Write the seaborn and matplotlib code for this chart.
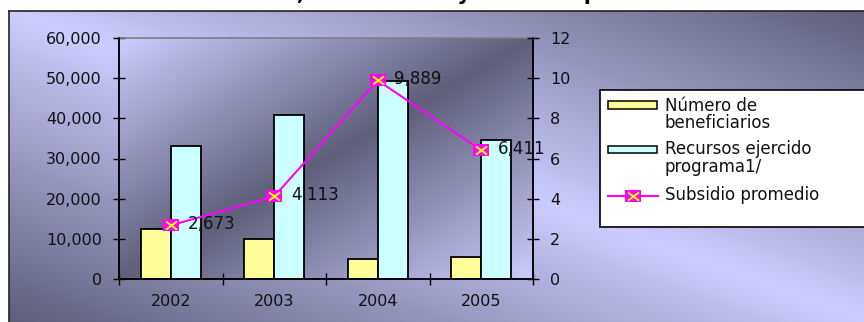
import numpy as np
import pandas as pd
import matplotlib
matplotlib.use("Agg")
import matplotlib.pyplot as plt
import seaborn as sns
from matplotlib.patches import Rectangle
from matplotlib.lines import Line2D
from matplotlib.path import Path
from matplotlib.ticker import FuncFormatter, FixedLocator

# ---- data ----
years = ["2002", "2003", "2004", "2005"]
beneficiarios = [12400, 10000, 4900, 5400]
recursos = [33200, 40900, 49200, 34500]
subsidio = [2.673, 4.113, 9.889, 6.411]
series_names = ["Número de\nbeneficiarios", "Recursos ejercido\nprograma1/", "Subsidio promedio"]
legend_lines = [["Número de", "beneficiarios"], ["Recursos ejercido", "programa1/"],
                ["Subsidio promedio"]]
title_text = "Población beneficiada, monto total y subsidio promedio 2002 - 2005"

plt.rcParams["font.family"] = ["DejaVu Sans"]

W, H = 864, 322
fig = plt.figure(figsize=(W / 100, H / 100), dpi=100)
fig.patch.set_facecolor("white")


def fx(p):
    return p / W


def fy(p):
    return 1 - p / H


light = np.array([204, 204, 255]) / 255.0
dark = np.array([95, 95, 122]) / 255.0

# outer chart area background
ox0, oy_top = 9, 11
bg = fig.add_axes([fx(ox0), 0, 1 - fx(ox0) + 0.01, fy(oy_top)], zorder=0)
n = 200
u = np.linspace(0, 1, n)[None, :]
v = np.linspace(0, 1, n)[:, None]
s = np.clip(np.abs(u - v), 0, 1)
img = light[None, None, :] + (dark - light)[None, None, :] * s[:, :, None]
bg.imshow(img, extent=[0, 1, 0, 1], origin="upper", aspect="auto")
bg.set_xlim(0, 1); bg.set_ylim(0, 1)
bg.set_xticks([]); bg.set_yticks([])
for k in ["right", "bottom"]:
    bg.spines[k].set_visible(False)
for k in ["left", "top"]:
    bg.spines[k].set_color("#222222")
    bg.spines[k].set_linewidth(1.2)

# plot area
px0, px1, py_top, py_bot = 119, 533, 38, 279
rect = [fx(px0), fy(py_bot), (px1 - px0) / W, (py_bot - py_top) / H]
pbg = fig.add_axes(rect, zorder=1)
t = (u + v) / 2.0
s2 = 1 - np.abs(2 * t - 1)
img2 = light[None, None, :] + (dark - light)[None, None, :] * s2[:, :, None]
pbg.imshow(img2, extent=[0, 1, 0, 1], origin="upper", aspect="auto")
pbg.set_xlim(0, 1); pbg.set_ylim(0, 1)
pbg.axis("off")

ax = fig.add_axes(rect, zorder=2)
ax.patch.set_alpha(0)

df = pd.DataFrame({
    "year": years * 2,
    "value": beneficiarios + recursos,
    "serie": [series_names[0]] * 4 + [series_names[1]] * 4,
})
yellow = "#ffff99"
cyan = "#ccffff"
sns.barplot(data=df, x="year", y="value", hue="serie", palette=[yellow, cyan],
            width=0.58, dodge=True, edgecolor="black", linewidth=1.3, ax=ax,
            saturation=1, legend=False)

FS = 11.5
ax.set_xlim(-0.5, 3.5)
ax.set_ylim(0, 60000)
ax.set_yticks(np.arange(0, 60001, 10000))
ax.yaxis.set_major_formatter(FuncFormatter(lambda x, p: f"{x:,.0f}"))
ax.set_xlabel(""); ax.set_ylabel("")
ax.xaxis.set_major_locator(FixedLocator([-0.5, 0.5, 1.5, 2.5, 3.5]))
ax.xaxis.set_minor_locator(FixedLocator([0, 1, 2, 3]))
ax.set_xticklabels([], minor=False)
ax.set_xticklabels(years, minor=True)
ax.tick_params(axis="x", which="major", direction="inout", length=9, width=1, color="black")
ax.tick_params(axis="x", which="minor", length=0, pad=11, labelsize=FS, labelcolor="#111111")
ax.tick_params(axis="y", direction="inout", length=9, width=1, pad=8, labelsize=FS,
               labelcolor="#111111")
for k in ["left", "bottom", "right"]:
    ax.spines[k].set_color("black")
    ax.spines[k].set_linewidth(1.1)
ax.spines["top"].set_color("#808080")
ax.spines["top"].set_linewidth(1.2)

# stretched rectangle / cross markers
rect_marker = Path([(-1.45, -1), (1.45, -1), (1.45, 1), (-1.45, 1), (-1.45, -1)],
                   [Path.MOVETO, Path.LINETO, Path.LINETO, Path.LINETO, Path.CLOSEPOLY])
x_marker = Path([(-1.0, -0.75), (1.0, 0.75), (-1.0, 0.75), (1.0, -0.75)],
                [Path.MOVETO, Path.LINETO, Path.MOVETO, Path.LINETO])

ax2 = ax.twinx()
ax2.set_zorder(3)
ax2.patch.set_alpha(0)
xpos = np.arange(len(years))
magenta = "#ff00ff"
sns.lineplot(x=xpos, y=subsidio, ax=ax2, color=magenta, linewidth=1.5,
             marker=rect_marker, markersize=12, markerfacecolor=magenta,
             markeredgecolor=magenta, markeredgewidth=0)
ax2.plot(xpos, subsidio, linestyle="none", marker=x_marker, color="#ffff00",
         markersize=8, markeredgewidth=1.4)
ax2.set_ylim(0, 12)
ax2.set_yticks(np.arange(0, 13, 2))
ax2.tick_params(axis="y", direction="inout", length=9, width=1, pad=8, labelsize=FS,
                labelcolor="#111111")
for k in ["left", "bottom", "right"]:
    ax2.spines[k].set_color("black")
    ax2.spines[k].set_linewidth(1.1)
ax2.spines["top"].set_visible(False)
ax.set_xlim(-0.5, 3.5)

for xi, val in zip(xpos, subsidio):
    ax2.annotate(f"{val:.3f}".replace(".", ","), (xi, val), xytext=(12, 1),
                 textcoords="offset points", va="center", ha="left",
                 fontsize=12, color="#111111")

# manual legend (box extends past the right edge like the reference)
fig.add_artist(Rectangle((fx(600), fy(227)), fx(880) - fx(600), fy(90) - fy(227),
                         transform=fig.transFigure, facecolor="white",
                         edgecolor="black", linewidth=1.2, zorder=10))
fig.add_artist(Rectangle((fx(608), fy(109)), fx(657) - fx(608), fy(101) - fy(109),
                         transform=fig.transFigure, facecolor=yellow,
                         edgecolor="black", linewidth=1.1, zorder=11))
fig.add_artist(Rectangle((fx(608), fy(153)), fx(657) - fx(608), fy(146) - fy(153),
                         transform=fig.transFigure, facecolor=cyan,
                         edgecolor="black", linewidth=1.1, zorder=11))
fig.add_artist(Line2D([fx(608), fx(658)], [fy(196), fy(196)], transform=fig.transFigure,
                      color=magenta, lw=1.5, zorder=11))
fig.add_artist(Line2D([fx(633)], [fy(196)], transform=fig.transFigure, linestyle="none",
                      marker=rect_marker, markersize=12, markerfacecolor=magenta,
                      markeredgewidth=0, zorder=12))
fig.add_artist(Line2D([fx(633)], [fy(196)], transform=fig.transFigure, linestyle="none",
                      marker=x_marker, markersize=8, color="#ffff00",
                      markeredgewidth=1.4, zorder=13))
line_y = [[106, 123], [149, 167], [195]]
for lines, ys in zip(legend_lines, line_y):
    for txt, yc in zip(lines, ys):
        fig.text(fx(665), fy(yc), txt, ha="left", va="center", fontsize=12,
                 color="#111111", zorder=14)

# title (partly cut by the top edge, like the reference)
fig.text(fx(440), fy(0), title_text, ha="center", va="baseline",
         fontsize=15, fontweight="bold", color="black")

fig.savefig("out.png", dpi=100)
